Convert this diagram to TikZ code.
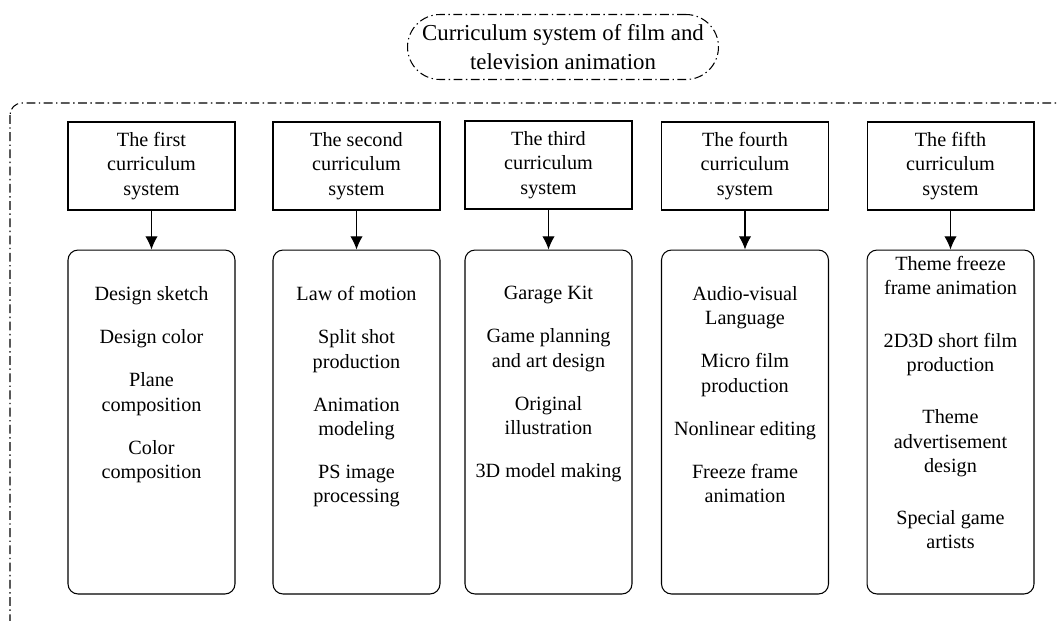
\documentclass[tikz,border=0pt]{standalone}
\usepackage{fontspec}
\setmainfont{Liberation Serif}
\usetikzlibrary{arrows.meta}

\begin{document}
\begin{tikzpicture}[x=0.02cm, y=-0.02cm,
      head/.style={draw, line width=0.6pt, minimum width=3.34cm,
                   minimum height=1.76cm, inner sep=0pt, align=center,
                   font=\fontsize{11.5}{13.8}\selectfont},
      listbox/.style={draw, line width=0.6pt, rounded corners=0.2cm,
                      minimum width=3.34cm, minimum height=6.88cm},
      items/.style={anchor=north, inner sep=0pt, align=center,
                    font=\fontsize{11.5}{13.8}\selectfont},
      link/.style={-{Latex[length=7.5pt, width=7pt]}, line width=0.6pt},
      dashdot/.style={line width=0.6pt, dash pattern=on 5pt off 2pt on 0.8pt off 2pt}]

    \useasboundingbox (0,0) rectangle (1058,620);
    \clip (0,0) rectangle (1058,620);

    % title and outer frame
    \node[dashdot, draw, rounded corners=0.65cm, minimum width=6.22cm,
          minimum height=1.3cm, align=center,
          font=\fontsize{13}{17}\selectfont] (title) at (563,47)
      {Curriculum system of film and\\television animation};
    \draw[dashdot, rounded corners=0.24cm] (10,103) rectangle (1075,640);

    % the five systems
    \node[head] (h1) at (151.5,166) {The first\\curriculum\\system};
    \node[head] (h2) at (356.5,166) {The second\\curriculum\\system};
    \node[head] (h3) at (548.5,165) {The third\\curriculum\\system};
    \node[head] (h4) at (745,166)   {The fourth\\curriculum\\system};
    \node[head] (h5) at (950.5,166) {The fifth\\curriculum\\system};

    \node[listbox] (c1) at (151.5,422) {};
    \node[listbox] (c2) at (356.5,422) {};
    \node[listbox] (c3) at (548.5,422) {};
    \node[listbox] (c4) at (745,422)   {};
    \node[listbox] (c5) at (950.5,422) {};

    \draw[link] (h1) -- (c1);
    \draw[link] (h2) -- (c2);
    \draw[link] (h3) -- (c3);
    \draw[link] (h4) -- (c4);
    \draw[link] (h5) -- (c5);

    % courses
    \node[items] (t1) at (151.5,286)
      {Design sketch\\[10.8pt]Design color\\[10.8pt]Plane\\composition\\[10.8pt]Color\\composition};
    \node[items] (t2) at (356.5,286)
      {Law of motion\\[10.8pt]Split shot\\production\\[10.8pt]Animation\\modeling\\[10.8pt]PS image\\processing};
    \node[items] (t3) at (548.5,286)
      {Garage Kit\\[10.8pt]Game planning\\and art design\\[10.8pt]Original\\illustration\\[10.8pt]3D model making};
    \node[items] (t4) at (745,286)
      {Audio-visual\\Language\\[10.8pt]Micro film\\production\\[10.8pt]Nonlinear editing\\[10.8pt]Freeze frame\\animation};
    \node[items] (t5) at (950.5,256)
      {Theme freeze\\frame animation\\[16pt]2D3D short film\\production\\[16pt]Theme\\advertisement\\design\\[16pt]Special game\\artists};
  \end{tikzpicture}
\end{document}
